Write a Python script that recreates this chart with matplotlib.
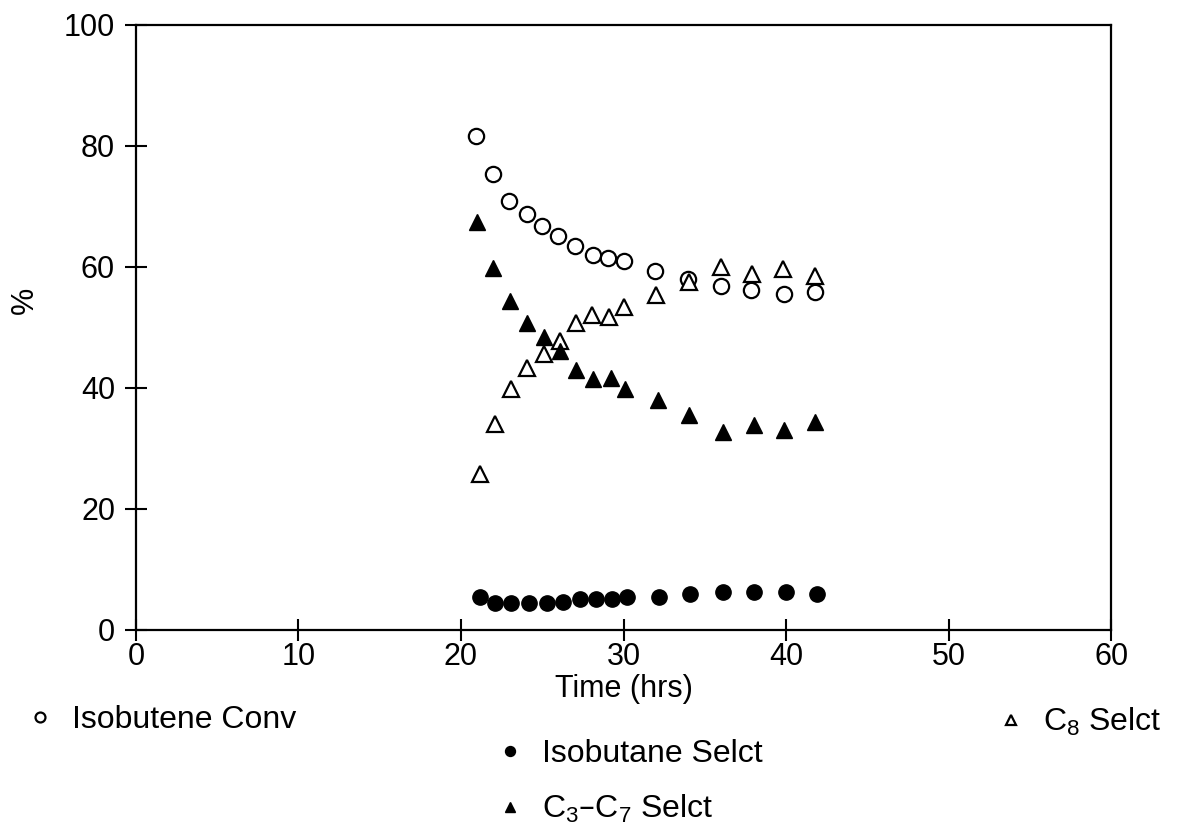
import matplotlib
matplotlib.use("Agg")
import matplotlib.pyplot as plt

# ---- data ----
t_conv = [20.9, 21.95, 22.97, 24.05, 24.97, 25.95, 27.03, 28.1, 29.05, 30.0,
          31.96, 33.95, 36.0, 37.85, 39.85, 41.77]
isobutene_conv = [81.7, 75.3, 70.9, 68.7, 66.8, 65.1, 63.5, 62.0, 61.5, 60.9,
                  59.3, 58.0, 56.9, 56.2, 55.5, 55.8]

t_c8 = [21.15, 22.07, 23.06, 24.07, 25.1, 26.1, 27.08, 28.08, 29.1, 30.05,
        32.0, 34.0, 36.0, 37.9, 39.8, 41.8]
c8_selct = [25.8, 34.0, 39.8, 43.3, 45.6, 47.8, 50.7, 52.1, 51.7, 53.3,
            55.4, 57.5, 60.0, 58.9, 59.7, 58.5]

t_c3c7 = [21.0, 22.0, 23.0, 24.08, 25.1, 26.1, 27.1, 28.1, 29.2, 30.1,
          32.1, 34.05, 36.1, 38.0, 39.9, 41.8]
c3c7_selct = [67.4, 59.8, 54.3, 50.7, 48.4, 46.1, 43.0, 41.5, 41.7, 39.9,
              38.0, 35.6, 32.8, 33.9, 33.0, 34.3]

t_isobutane = [21.2, 22.1, 23.1, 24.2, 25.3, 26.3, 27.3, 28.3, 29.3, 30.2,
               32.2, 34.1, 36.1, 38.0, 40.0, 41.9]
isobutane_selct = [5.4, 4.5, 4.5, 4.5, 4.5, 4.7, 5.1, 5.1, 5.1, 5.4,
                   5.5, 6.0, 6.2, 6.3, 6.3, 6.0]

x_ticks = [0, 10, 20, 30, 40, 50, 60]
y_ticks = [0, 20, 40, 60, 80, 100]

plt.rcParams['font.family'] = ['Liberation Sans', 'DejaVu Sans']
plt.rcParams['mathtext.default'] = 'regular'

fig = plt.figure(figsize=(11.82, 8.30), dpi=100)
ax = fig.add_axes([0.115, 0.241, 0.825, 0.729])

h_conv, = ax.plot(t_conv, isobutene_conv, linestyle='none', marker='o', markersize=11,
                  markerfacecolor='white', markeredgecolor='black', markeredgewidth=1.6,
                  label='Isobutene Conv')
h_c8, = ax.plot(t_c8, c8_selct, linestyle='none', marker='^', markersize=12,
                markerfacecolor='white', markeredgecolor='black', markeredgewidth=1.6,
                label='C$_8$ Selct')
h_c37, = ax.plot(t_c3c7, c3c7_selct, linestyle='none', marker='^', markersize=12,
                 markerfacecolor='black', markeredgecolor='black', markeredgewidth=1.0,
                 label='C$_3$–C$_7$ Selct')
h_iso, = ax.plot(t_isobutane, isobutane_selct, linestyle='none', marker='o', markersize=11,
                 markerfacecolor='black', markeredgecolor='black', markeredgewidth=1.0,
                 label='Isobutane Selct')

ax.set_xlim(0, 60)
ax.set_ylim(0, 100)
ax.set_xticks(x_ticks)
ax.set_yticks(y_ticks)
ax.tick_params(direction='inout', length=16, width=1.5, labelsize=22,
               top=False, right=False)
ax.tick_params(axis='y', pad=7)
ax.tick_params(axis='x', pad=1)
for sp in ax.spines.values():
    sp.set_linewidth(1.6)

ax.set_xlabel('Time (hrs)', fontsize=22)
ax.xaxis.set_label_coords(0.5, -0.072)
ax.set_ylabel('%', fontsize=22)
ax.yaxis.set_label_coords(-0.098, 0.545)

common = dict(frameon=False, fontsize=23, markerscale=0.65, handlelength=1.0,
              handletextpad=0.5, borderaxespad=0, borderpad=0)
leg1 = fig.legend(handles=[h_conv], loc='center left',
                  bbox_to_anchor=(0.020, 1 - 720 / 830), **common)
leg2 = fig.legend(handles=[h_iso, h_c37], loc='upper left', labelspacing=0.75,
                  bbox_to_anchor=(0.418, 1 - 739 / 830), **common)
leg3 = fig.legend(handles=[h_c8], loc='center left',
                  bbox_to_anchor=(0.842, 1 - 722 / 830), **common)

fig.savefig('out.png', dpi=100)
